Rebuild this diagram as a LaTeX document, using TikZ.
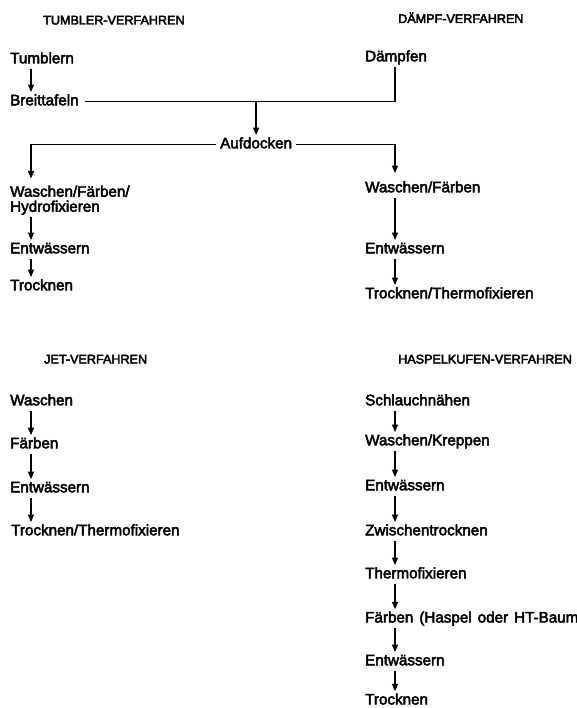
\documentclass[tikz,border=0pt]{standalone}
\usepackage{fontspec}
\setmainfont{Liberation Sans}[FakeBold=3]
\newfontfamily\headfont{Liberation Sans}[FakeBold=3.5]
\usetikzlibrary{arrows.meta}
\begin{document}
\begin{tikzpicture}[x=1pt,y=1pt,
  proc/.style={anchor=base west, inner sep=2pt, text height=11pt, text depth=3.5pt,
    font=\fontsize{15.2}{15}\selectfont},
  proc2/.style={anchor=north west, inner sep=2pt, align=left,
    font=\fontsize{15.2}{15}\selectfont},
  head/.style={anchor=base west, inner sep=0pt, font=\headfont\fontsize{12.6}{14}\selectfont},
  link/.style={line width=1.35pt},
  flow/.style={link, -{Triangle[length=7.5pt,width=6pt]}}]
\useasboundingbox (0,0) rectangle (577,-708);

% arrow columns
\coordinate (colL) at (31,0);
\coordinate (colR) at (395,0);

% section titles
\node[head] (hTumbler) at (43,-24.5) {TUMBLER-VERFAHREN};
\node[head] (hDaempf)  at (398,-23)  {DÄMPF-VERFAHREN};
\node[head] (hJet)     at (44,-363.5) {JET-VERFAHREN};
\node[head] (hHaspel)  at (398,-363.5) {HASPELKUFEN-VERFAHREN};

% Tumbler / Dämpf
\node[proc] (tumblern) at (8,-63.3)   {Tumblern};
\node[proc] (breit)    at (8,-105.3)  {Breittafeln};
\node[proc] (daempfen) at (363,-61.3) {Dämpfen};
\node[proc] (aufdocken) at (218,-148.3) {Aufdocken};
\node[proc2] (wfh)     at (8,-183.5)  {Waschen/Färben/\\Hydrofixieren};
\node[proc] (entL)     at (8,-253.3)  {Entwässern};
\node[proc] (trockL)   at (8,-290.3)  {Trocknen};
\node[proc] (wfR)      at (363,-192.3) {Waschen/Färben};
\node[proc] (entR)     at (363,-253.3) {Entwässern};
\node[proc] (ttR)      at (363,-298.3) {Trocknen/Thermofixieren};

% Jet
\node[proc] (jWasch) at (8,-405.3)  {Waschen};
\node[proc] (jFarb)  at (8,-448.3)  {Färben};
\node[proc] (jEnt)   at (8,-492.3)  {Entwässern};
\node[proc] (jTT)    at (9,-535.3)  {Trocknen/Thermofixieren};

% Haspelkufen
\node[proc] (hSchl)  at (363,-405.3) {Schlauchnähen};
\node[proc] (hWK)    at (363,-445.3) {Waschen/Kreppen};
\node[proc] (hEnt1)  at (363,-490.3) {Entwässern};
\node[proc] (hZw)    at (363,-535.3) {Zwischentrocknen};
\node[proc] (hThermo) at (363,-578.3) {Thermofixieren};
\node[proc] (hFarb)  at (363,-622.5) {\spaceskip=6pt Färben (Haspel oder HT-Baum};
\node[proc] (hEnt2)  at (363,-665.3) {Entwässern};
\node[proc] (hTrock) at (363,-704.5) {Trocknen};

% Tumbler branch and joining line
\draw[flow] (tumblern.south -| colL) -- (breit.north -| colL);
\draw[link, shorten <=4pt] (breit.east) -| (daempfen.south -| colR);
\draw[flow] (aufdocken.north |- breit.east) -- (aufdocken.north);
\draw[flow, shorten <=2pt, shorten >=5pt] (aufdocken.west) -| (wfh.north -| colL);
\draw[flow, shorten <=2pt, shorten >=6pt] (aufdocken.east) -| (wfR.north -| colR);

\draw[flow] (wfh.south -| colL) -- (entL.north -| colL);
\draw[flow] (entL.south -| colL) -- (trockL.north -| colL);
\draw[flow] (wfR.south -| colR) -- (entR.north -| colR);
\draw[flow] (entR.south -| colR) -- (ttR.north -| colR);

% Jet chain
\draw[flow] (jWasch.south -| colL) -- (jFarb.north -| colL);
\draw[flow] (jFarb.south -| colL) -- (jEnt.north -| colL);
\draw[flow] (jEnt.south -| colL) -- (jTT.north -| colL);

% Haspelkufen chain
\draw[flow] (hSchl.south -| colR) -- (hWK.north -| colR);
\draw[flow] (hWK.south -| colR) -- (hEnt1.north -| colR);
\draw[flow] (hEnt1.south -| colR) -- (hZw.north -| colR);
\draw[flow] (hZw.south -| colR) -- (hThermo.north -| colR);
\draw[flow] (hThermo.south -| colR) -- (hFarb.north -| colR);
\draw[flow] (hFarb.south -| colR) -- (hEnt2.north -| colR);
\draw[flow] (hEnt2.south -| colR) -- (hTrock.north -| colR);
\end{tikzpicture}
\end{document}
